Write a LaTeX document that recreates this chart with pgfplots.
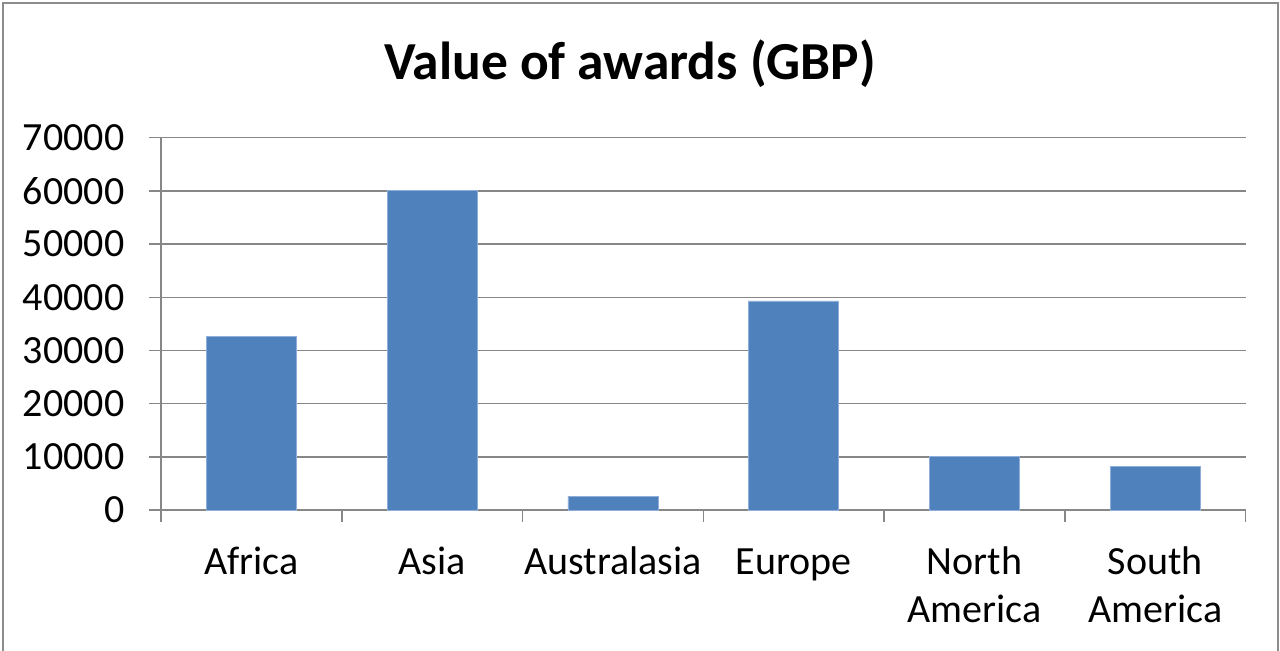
\documentclass[border=0pt]{standalone}
\usepackage{fontspec}
\setmainfont{Carlito}
\usepackage{pgfplots}
\pgfplotsset{compat=1.18}
\definecolor{barblue}{HTML}{4F81BD}
\definecolor{baredge}{HTML}{8FAEDA}
\definecolor{gridgray}{HTML}{878787}
\definecolor{framegray}{HTML}{8C8C8C}
\begin{document}
\begin{tikzpicture}
\useasboundingbox (0,0) rectangle (1280bp,651bp);
\fill[white] (0,0) rectangle (1280bp,651bp);
\draw[framegray, line width=2bp] (3bp,-10bp) -- (3bp,648bp) -- (1278bp,648bp) -- (1278bp,-10bp);
\node[font=\fontsize{53.5bp}{64bp}\selectfont\bfseries, anchor=base, inner sep=0pt] at (630bp,571bp) {Value of awards (GBP)};
\begin{axis}[
  at={(161bp,141bp)}, anchor=south west,
  width=1084.7bp, height=372.3bp, scale only axis,
  xmin=-0.5, xmax=5.5, ymin=0, ymax=70000,
  axis lines*=left,
  axis line style={draw=gridgray, line width=1.5bp},
  ytick={0,10000,...,70000},
  ymajorgrids,
  major grid style={draw=gridgray, line width=1.5bp},
  xtick={-0.5,0.5,1.5,2.5,3.5,4.5,5.5},
  xticklabels={},
  extra x ticks={0,1,2,3,4,5},
  extra x tick labels={{\strut Africa},{\strut Asia},{\strut Australasia},{\strut Europe},{\strut North\\\strut America},{\strut South\\\strut America}},
  extra x tick style={major tick style={draw=none}, xmajorgrids=false,
    xticklabel style={align=center, anchor=north, inner sep=0pt, yshift=-19bp}},
  tick align=outside,
  major tick length=11.5bp,
  major tick style={draw=gridgray, line width=1.5bp},
  /pgf/number format/assume math mode=true,
  /pgf/number format/1000 sep={},
  ticklabel style={font=\fontsize{40bp}{48bp}\selectfont},
  yticklabel style={anchor=east, inner sep=0pt, xshift=-25bp},
  scaled y ticks=false,
  ybar, bar width=90bp,
  clip=false,
]
\addplot[fill=barblue, draw=baredge, line width=0.8bp] coordinates {
  (0,32600) (1,60000) (2,2500) (3,39300) (4,10000) (5,8200)
};
\end{axis}
\end{tikzpicture}
\end{document}
